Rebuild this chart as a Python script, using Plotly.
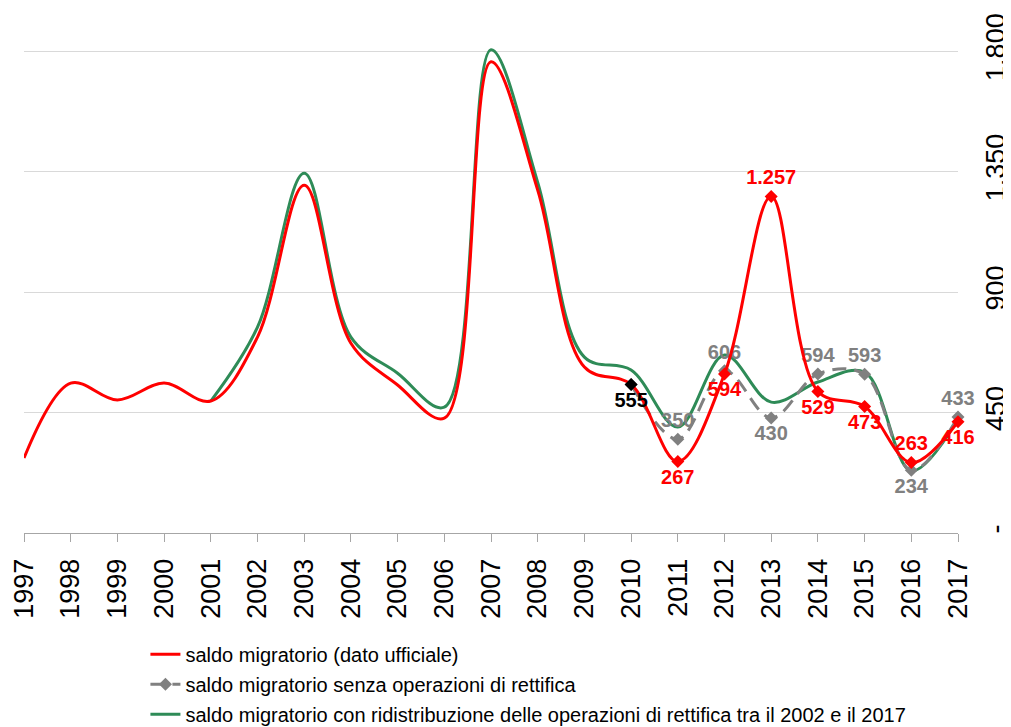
import plotly.graph_objects as go

years = list(range(1997, 2018))
red_vals = [280, 560, 497, 560, 493, 732, 1299, 709, 553, 429, 1760, 1281, 620,
            555, 267, 594, 1257, 529, 473, 263, 416]
green_vals = [None, None, None, None, 493, 769, 1344, 732, 597, 470, 1805, 1310, 657,
              609, 396, 665, 489, 564, 601, 232, 425]
gray_years = list(range(2010, 2018))
gray_vals = [555, 350, 606, 430, 594, 593, 234, 433]

red_mark_years = years[13:]
red_mark_vals = red_vals[13:]

def fmt(v):
    return f"{v:,}".replace(",", ".")

red_labels = [fmt(v) for v in red_mark_vals]
red_pos = ["bottom center", "bottom center", "bottom center", "top center",
           "bottom center", "bottom center", "top center", "bottom center"]
red_colors = ["black"] + ["#ff0000"] * 7
gray_labels = [""] + [fmt(v) for v in gray_vals[1:]]
gray_pos = ["top center", "top center", "top center", "bottom center",
            "top center", "top center", "bottom center", "top center"]

y_ticks = [0, 450, 900, 1350, 1800]
y_ticktext = ["-", "450", "900", "1.350", "1.800"]

RED = "#ff0000"
GREEN = "#2e8b57"
GRAY = "#808080"

fig = go.Figure()
fig.add_trace(go.Scatter(
    x=years, y=green_vals, mode="lines", name="saldo migratorio con ridistribuzione delle operazioni di rettifica tra il 2002 e il 2017",
    line=dict(color=GREEN, width=3, shape="spline", smoothing=1), legendrank=3, legendgroup="c"))
fig.add_trace(go.Scatter(
    x=gray_years, y=gray_vals, mode="lines+markers+text", name="saldo migratorio senza operazioni di rettifica",
    line=dict(color=GRAY, width=3, shape="spline", smoothing=1, dash="14px,8px"),
    marker=dict(symbol="diamond", size=10, color=GRAY),
    text=gray_labels, textposition=gray_pos, cliponaxis=False,
    textfont=dict(color=GRAY, size=20, family="Liberation Sans", weight="bold"),
    legendrank=2, legendgroup="b"))
fig.add_trace(go.Scatter(
    x=years, y=red_vals, mode="lines", name="saldo migratorio (dato ufficiale)",
    line=dict(color=RED, width=3, shape="spline", smoothing=1), legendrank=1, legendgroup="a"))
fig.add_trace(go.Scatter(
    x=red_mark_years, y=red_mark_vals, mode="markers+text", showlegend=False,
    marker=dict(symbol="diamond", size=10, color=red_colors), cliponaxis=False,
    text=red_labels, textposition=red_pos,
    textfont=dict(color=red_colors, size=20, family="Liberation Sans", weight="bold")))

fig.update_layout(
    width=1003, height=719,
    margin=dict(l=16, r=53, t=3, b=194, autoexpand=False),
    paper_bgcolor="white", plot_bgcolor="white",
    font=dict(family="Liberation Sans", color="black"),
    showlegend=True,
    legend=dict(x=0.13, y=-0.195, xanchor="left", yanchor="top",
                font=dict(size=20, family="Liberation Sans"),
                tracegroupgap=1, bgcolor="rgba(0,0,0,0)"),
    xaxis=dict(range=[1997, 2017], tickvals=years, ticktext=[str(y) for y in years],
               tickangle=-90, tickfont=dict(size=27), showgrid=False, zeroline=False,
               showline=True, linecolor="#a6a6a6", linewidth=1, automargin=False,
               ticks="outside", ticklen=8, tickcolor="#a6a6a6", ticklabelstandoff=6),
    yaxis=dict(range=[0, 1950], side="right", tickvals=y_ticks, ticktext=y_ticktext,
               tickangle=-90, tickfont=dict(size=27), showgrid=True, gridcolor="#d9d9d9",
               gridwidth=1, zeroline=False, showline=False, ticks="", automargin=False,
               ticklabelstandoff=19),
)

fig.write_html("out.html")
